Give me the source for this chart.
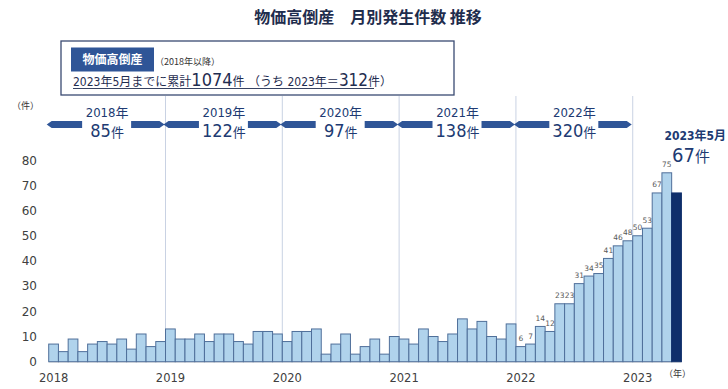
<!DOCTYPE html>
<html>
<head>
<meta charset="utf-8">
<script src="https://cdn.jsdelivr.net/npm/d3@7"></script>
<style>
  body { margin: 0; background: #fff; }
  svg { display: block; }
</style>
</head>
<body>
<div id="chart"></div>
<script>
const years = [2018, 2019, 2020, 2021, 2022, 2023]
const yearTotals = [85, 122, 97, 138, 320]

// monthly counts, 2018-01 .. 2023-05
const monthly = [
  7, 4, 9, 4, 7, 8, 7, 9, 5, 11, 6, 8,
  13, 9, 9, 11, 8, 11, 11, 8, 7, 12, 12, 11,
  8, 12, 12, 13, 3, 7, 11, 3, 6, 9, 3, 10,
  9, 7, 13, 10, 8, 11, 17, 13, 16, 10, 9, 15,
  6, 7, 14, 12, 23, 23, 31, 34, 35, 41, 46, 48,
  50, 53, 67, 75, 67
]
const yTicks = [0, 10, 20, 30, 40, 50, 60, 70, 80]

const W = 728
const H = 389
const navy = '#203a72'
const narrow = "'Liberation Sans Narrow', 'DejaVu Sans Condensed', 'Noto Sans CJK JP', sans-serif"
const cjk = "'Noto Sans CJK JP', sans-serif"

const months = monthly.map((v, i) => {
  const yr = 2018 + Math.floor(i / 12)
  const m = (i % 12) + 1
  return { key: yr + '-' + m, yr: yr, m: m, v: v, i: i }
})

const svg = d3
  .select('#chart')
  .append('svg')
  .attr('width', W)
  .attr('height', H)

const x = d3
  .scaleBand()
  .domain(months.map(d => d.key))
  .range([48.7, 681.4])
  .padding(0)

const y = d3
  .scaleLinear()
  .domain([0, 80])
  .range([361.7, 160.2])

// title
svg
  .append('text')
  .attr('x', 368)
  .attr('y', 23)
  .attr('text-anchor', 'middle')
  .style('font-family', cjk)
  .style('font-weight', 'bold')
  .style('font-size', '16px')
  .style('fill', '#1f2d4d')
  .text('物価高倒産　月別発生件数 推移')

// summary box
svg
  .append('rect')
  .attr('x', 61)
  .attr('y', 41)
  .attr('width', 393)
  .attr('height', 54)
  .attr('fill', '#fff')
  .attr('stroke', '#3a4a72')
  .attr('stroke-width', 1.3)

svg
  .append('rect')
  .attr('x', 71)
  .attr('y', 47.5)
  .attr('width', 83)
  .attr('height', 24)
  .attr('fill', '#2f5597')

svg
  .append('text')
  .attr('x', 112.5)
  .attr('y', 64)
  .attr('text-anchor', 'middle')
  .style('font-family', cjk)
  .style('font-weight', 'bold')
  .style('font-size', '12px')
  .style('fill', '#fff')
  .text('物価高倒産')

svg
  .append('text')
  .attr('x', 155)
  .attr('y', 65)
  .style('font-family', cjk)
  .style('font-size', '9px')
  .style('fill', '#333')
  .text('（2018年以降）')

const line2 = svg
  .append('text')
  .attr('x', 73)
  .attr('y', 86)
  .style('font-family', narrow)
  .style('fill', '#1f2d50')
  .style('font-size', '12px')
line2.append('tspan').text('2023年5月までに累計')
line2.append('tspan').style('font-size', '18px').text('1074')
line2.append('tspan').text('件 （うち 2023年＝')
line2.append('tspan').style('font-size', '17px').text('312')
line2.append('tspan').text('件）')

svg
  .append('line')
  .attr('x1', 73)
  .attr('x2', 374)
  .attr('y1', 88.5)
  .attr('y2', 88.5)
  .attr('stroke', '#1f2d50')
  .attr('stroke-width', 0.9)

// year separators
svg
  .append('g')
  .selectAll('line')
  .data(years.slice(1))
  .join('line')
  .attr('x1', d => x(d + '-1'))
  .attr('x2', d => x(d + '-1'))
  .attr('y1', 96)
  .attr('y2', y(0))
  .attr('stroke', '#c9d2e3')
  .attr('stroke-width', 1)

// baseline
svg
  .append('line')
  .attr('x1', x.range()[0])
  .attr('x2', x.range()[1])
  .attr('y1', y(0) + 0.5)
  .attr('y2', y(0) + 0.5)
  .attr('stroke', '#d9d9d9')

// y axis labels
svg
  .append('g')
  .selectAll('text')
  .data(yTicks)
  .join('text')
  .attr('x', 37)
  .attr('y', d => y(d))
  .attr('dy', '0.36em')
  .attr('text-anchor', 'end')
  .style('font-family', "'DejaVu Sans', sans-serif")
  .style('font-size', '12px')
  .style('fill', '#404040')
  .text(d => d)

svg
  .append('text')
  .attr('x', 12)
  .attr('y', 109)
  .style('font-family', cjk)
  .style('font-size', '9px')
  .style('fill', '#333')
  .text('（件）')

// x axis year labels
svg
  .append('g')
  .selectAll('text')
  .data(years)
  .join('text')
  .attr('x', d => x(d + '-1') + 5)
  .attr('y', 382)
  .attr('text-anchor', 'middle')
  .style('font-family', "'DejaVu Sans', sans-serif")
  .style('font-size', '11.5px')
  .style('fill', '#404040')
  .text(d => d)

svg
  .append('text')
  .attr('x', 664)
  .attr('y', 377)
  .style('font-family', cjk)
  .style('font-size', '9px')
  .style('fill', '#333')
  .text('（年）')

// bars
const last = months.length - 1
svg
  .append('g')
  .selectAll('rect')
  .data(months)
  .join('rect')
  .attr('x', d => x(d.key))
  .attr('y', d => y(d.v))
  .attr('width', x.bandwidth())
  .attr('height', d => y(0) - y(d.v))
  .attr('fill', d => (d.i === last ? '#0f2f6b' : '#b0d3ec'))
  .attr('stroke', d => (d.i === last ? '#0f2f6b' : '#4f6f9a'))
  .attr('stroke-width', 1)

// value labels for 2022-01 .. 2023-04
svg
  .append('g')
  .selectAll('text')
  .data(months.filter(d => d.yr >= 2022 && d.i !== last))
  .join('text')
  .attr('x', d => x(d.key) + x.bandwidth() / 2)
  .attr('y', d => y(d.v) - 5.5)
  .attr('text-anchor', 'middle')
  .style('font-family', "'DejaVu Sans', sans-serif")
  .style('font-size', '7.5px')
  .style('fill', '#595959')
  .text(d => d.v)

// year arrows and totals
const cy = 124.5
const ah = 3.6
const arrows = svg.append('g')
years.slice(0, -1).forEach((yr, i) => {
  const s = x(yr + '-1')
  const e = x(yr + 1 + '-1')
  const c = (s + e) / 2
  const l0 = s - 2
  const l1 = c - 25
  const r0 = c + 24
  const r1 = e - 1
  arrows
    .append('path')
    .attr('d', `M${l0},${cy}L${l0 + 5},${cy - ah}L${l1},${cy - ah}L${l1},${cy + ah}L${l0 + 5},${cy + ah}Z`)
    .attr('fill', '#2f5597')
  arrows
    .append('path')
    .attr('d', `M${r0},${cy - ah}L${r1 - 5},${cy - ah}L${r1},${cy}L${r1 - 5},${cy + ah}L${r0},${cy + ah}Z`)
    .attr('fill', '#2f5597')
  arrows
    .append('text')
    .attr('x', c)
    .attr('y', 117)
    .attr('text-anchor', 'middle')
    .style('font-family', narrow)
    .style('font-size', '13px')
    .style('fill', navy)
    .text(yr + '年')
  const t = arrows
    .append('text')
    .attr('x', c)
    .attr('y', 137)
    .attr('text-anchor', 'middle')
    .style('font-family', narrow)
    .style('fill', navy)
  t.append('tspan').style('font-size', '18px').text(yearTotals[i])
  t.append('tspan').style('font-size', '13px').text('件')
})

// latest month callout
const lastMonth = months[last]
svg
  .append('text')
  .attr('x', 726)
  .attr('y', 140)
  .attr('text-anchor', 'end')
  .style('font-family', narrow)
  .style('font-size', '12px')
  .style('font-weight', 'bold')
  .style('fill', navy)
  .text(lastMonth.yr + '年' + lastMonth.m + '月')

const callout = svg
  .append('text')
  .attr('x', 672)
  .attr('y', 162)
  .style('font-family', narrow)
  .style('fill', navy)
callout.append('tspan').style('font-size', '20px').text(lastMonth.v)
callout.append('tspan').style('font-size', '15px').text('件')
</script>
</body>
</html>
